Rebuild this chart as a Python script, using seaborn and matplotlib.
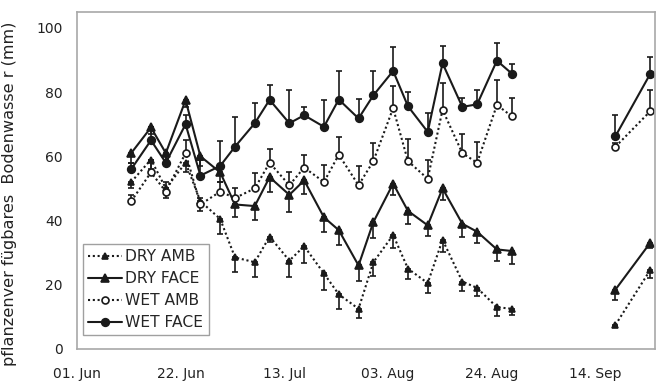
"""
Plant-available soil water (mm) over the season for DRY/WET x AMB/FACE treatments.

Line plot with one-sided error bars, gap between end of August and mid September.
Saves the figure as out.png.
"""

import numpy as np
import pandas as pd
import matplotlib
matplotlib.use('Agg')
import matplotlib.pyplot as plt
import matplotlib.dates as mdates
from matplotlib.lines import Line2D
import seaborn as sns

# sampling dates (second block after the gap)
dates = ['2009-06-12', '2009-06-16', '2009-06-19', '2009-06-23', '2009-06-26',
         '2009-06-30', '2009-07-03', '2009-07-07', '2009-07-10', '2009-07-14',
         '2009-07-17', '2009-07-21', '2009-07-24', '2009-07-28', '2009-07-31',
         '2009-08-04', '2009-08-07', '2009-08-11', '2009-08-14', '2009-08-18',
         '2009-08-21', '2009-08-25', '2009-08-28',
         '2009-09-18', '2009-09-25']
segment = [0] * 23 + [1] * 2

dry_amb = [52, 59, 50, 58, 46, 40.5, 28.5, 27, 35, 27.5, 32, 23.5, 17, 12.5, 27,
           35.5, 25, 20.5, 34, 21, 19, 13, 12.5, 7.5, 24.5]
dry_amb_err = [2, 3, 3, 3, 3, 4.7, 4.4, 4.7, 1.6, 5.2, 5.2, 5.2, 4.7, 3, 4.2,
               4.2, 3.1, 3.1, 3.9, 3.1, 2.6, 2.6, 1.9, 0.5, 2.3]

dry_face = [61, 69, 61, 77.5, 60, 55, 45, 44.5, 53.5, 48, 52.5, 41, 37, 26, 39.5,
            51.5, 43, 38.5, 50, 39, 36.5, 31, 30.5, 18.5, 33]
dry_face_err = [3, 2, 2, 2, 3, 3, 4, 4.2, 4.5, 5.2, 4.2, 4.7, 4.7, 4.7, 5,
                3.6, 4, 3.4, 3.6, 4, 3.6, 3.6, 4.2, 3.4, 1.5]

wet_amb = [46, 55, 49, 61, 45, 49, 47, 50, 58, 51, 56.5, 52, 60.5, 51, 58.5,
           75, 58.5, 53, 74.5, 61, 58, 76, 72.5, 63, 74]
wet_amb_err = [2, 4, 3, 4, 2, 3, 3, 4.7, 4.4, 4, 4, 5.2, 5.6, 6, 5.7,
               6.8, 7, 6, 8.3, 6.1, 6.6, 7.7, 5.7, 1, 6.6]

wet_face = [56, 65, 58, 70, 54, 57, 63, 70.3, 77.6, 70.3, 72.8, 69.2, 77.7, 71.8, 79,
            86.6, 75.6, 67.6, 89, 75.4, 76.2, 89.8, 85.8, 66.3, 85.6]
wet_face_err = [2, 4, 2, 3, 5, 7.8, 9.2, 6.2, 4.5, 10.4, 2.6, 8.3, 8.9, 6, 7.5,
                7.6, 4.5, 6, 5.4, 2.8, 4.5, 5.4, 3, 6.5, 5.2]

series = ['DRY AMB', 'DRY FACE', 'WET AMB', 'WET FACE']
values = [dry_amb, dry_face, wet_amb, wet_face]
errors = [dry_amb_err, dry_face_err, wet_amb_err, wet_face_err]


def main():
    sns.set_theme(style='white')
    plt.rcParams['font.family'] = ['DejaVu Sans']

    fig = plt.figure(figsize=(6.57, 3.83), dpi=100)
    ax = fig.add_axes([0.117, 0.089, 0.880, 0.880])

    x = pd.to_datetime(dates)
    dot = (0, (1, 1.3))
    styles = {
        'DRY AMB': dict(marker='^', mfc='k', ms=4.5, ls=dot),
        'DRY FACE': dict(marker='^', mfc='k', ms=5.5, ls='-'),
        'WET AMB': dict(marker='o', mfc='w', ms=5, ls=dot),
        'WET FACE': dict(marker='o', mfc='k', ms=5.5, ls='-'),
    }

    handles = []
    for name, vals, err in zip(series, values, errors):
        st = styles[name]
        df = pd.DataFrame({'date': x, 'value': vals, 'segment': segment})
        sns.lineplot(data=df, x='date', y='value', units='segment', estimator=None,
                     color='k', lw=1.5, linestyle=st['ls'], marker=st['marker'],
                     ms=st['ms'], mfc=st['mfc'], mec='k', mew=1.2, legend=False, ax=ax)
        err = np.array(err)
        # DRY bars point down, WET bars point up
        if name.startswith('DRY'):
            yerr = [err, np.zeros_like(err)]
        else:
            yerr = [np.zeros_like(err), err]
        ax.errorbar(x, vals, yerr=yerr, fmt='none', ecolor='k', elinewidth=1.2,
                    capsize=2.5, capthick=1.2, zorder=1)
        handles.append(Line2D([], [], color='k', lw=1.5, linestyle=st['ls'],
                              marker=st['marker'], ms=st['ms'], mfc=st['mfc'],
                              mec='k', mew=1.2))

    ax.set_xlim(pd.Timestamp('2009-06-01'), pd.Timestamp('2009-09-26'))
    ax.set_ylim(0, 105)
    ax.set_yticks(np.arange(0, 101, 20))
    ticks = pd.date_range('2009-06-01', '2009-09-14', freq='21D')
    ax.set_xticks(ticks)
    ax.xaxis.set_major_formatter(mdates.DateFormatter('%d. %b'))
    ax.tick_params(axis='both', length=0, labelsize=10, colors='#222222')
    ax.tick_params(axis='y', pad=10)
    ax.tick_params(axis='x', pad=13)
    ax.set_xlabel('')
    ax.set_ylabel('pflanzenver fügbares  Bodenwasse r (mm)', fontsize=11.6,
                  color='#222222')
    ax.yaxis.set_label_coords(-0.104, 0.46)
    for sp in ax.spines.values():
        sp.set_color('#a8a8a8')
        sp.set_linewidth(1.2)

    leg = ax.legend(handles, series, loc='lower left', bbox_to_anchor=(0.01, 0.04),
                    borderaxespad=0, fontsize=11.2, frameon=True, fancybox=False,
                    handlelength=2.2, handletextpad=0.2, labelspacing=0.45,
                    borderpad=0.35)
    leg.get_frame().set_edgecolor('#888888')
    leg.get_frame().set_linewidth(1.0)

    fig.savefig('out.png', dpi=100)


if __name__ == '__main__':
    main()
